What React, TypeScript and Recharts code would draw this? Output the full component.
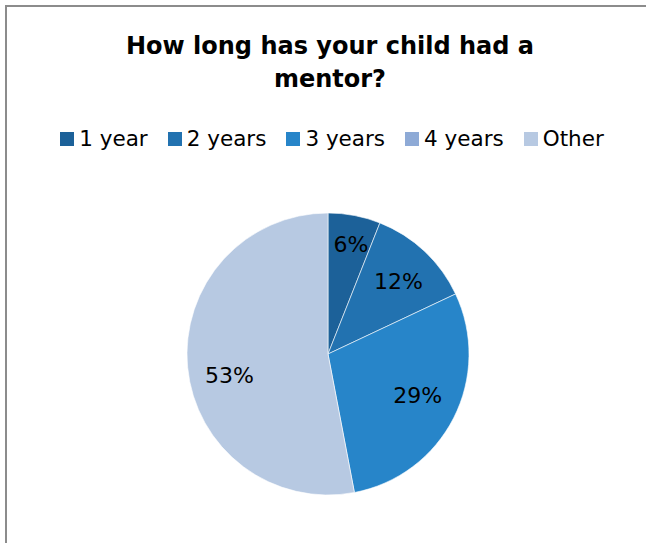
import React from "react";
import { PieChart, Pie, Cell } from "recharts";

const TITLE = ["How long has your child had a", "mentor?"];
const CATEGORIES = ["1 year", "2 years", "3 years", "4 years", "Other"];
const SHARES = [6, 12, 29, 0, 53];
const COLORS = ["#1c6199", "#2272b0", "#2785c9", "#8eaad6", "#b7c9e2"];

const data = CATEGORIES.map((name, i) => ({ name, value: SHARES[i] }));

const FONT = "'DejaVu Sans', sans-serif";
const RAD = Math.PI / 180;

// best-fit style nudges (radius, angle shift in degrees) per slice label
const LABEL_R = [112, 101, 99, 101, 101];
const LABEL_SHIFT = [-1, -1, 2, 0, 7];

function renderLabel(props: any) {
  const { cx, cy, midAngle, value, index } = props;
  if (!value) return null;
  const r = LABEL_R[index];
  const a = (midAngle + LABEL_SHIFT[index]) * RAD;
  const x = cx + r * Math.cos(-a);
  const y = cy + r * Math.sin(-a);
  return (
    <text x={x} y={y} fill="#000" fontSize={22} fontFamily={FONT} textAnchor="middle" dominantBaseline="central">
      {value}%
    </text>
  );
}

export default function App() {
  return (
    <div style={{ position: "absolute", left: 0, top: 0, width: 646, height: 543, background: "#fff", overflow: "hidden" }}>
      <div style={{ position: "absolute", left: 5, top: 5, width: 660, height: 560, borderTop: "2px solid #8c8c8c", borderLeft: "2px solid #8c8c8c" }} />
      <div style={{ position: "absolute", left: 0, top: 30, width: 660, textAlign: "center", fontFamily: FONT, fontWeight: 700, fontSize: 24, lineHeight: "33px", color: "#000" }}>
        {TITLE.map((t) => (
          <div key={t}>{t}</div>
        ))}
      </div>
      <div style={{ position: "absolute", left: 0, top: 126, width: 664, display: "flex", justifyContent: "center", gap: 20, fontFamily: FONT, fontSize: 21.5, color: "#000" }}>
        {CATEGORIES.map((c, i) => (
          <div key={c} style={{ display: "flex", alignItems: "center" }}>
            <span style={{ width: 14, height: 14, background: COLORS[i], display: "inline-block", marginRight: 5 }} />
            <span>{c}</span>
          </div>
        ))}
      </div>
      <div style={{ position: "absolute", left: 0, top: 0 }}>
        <PieChart width={646} height={543} margin={{ top: 0, right: 0, bottom: 0, left: 0 }}>
          <Pie
            data={data}
            dataKey="value"
            nameKey="name"
            cx={328}
            cy={354}
            outerRadius={141}
            startAngle={90}
            endAngle={-270}
            stroke="#fff"
            strokeWidth={0.6}
            label={renderLabel}
            labelLine={false}
            isAnimationActive={false}
          >
            {data.map((d, i) => (
              <Cell key={d.name} fill={COLORS[i]} />
            ))}
          </Pie>
        </PieChart>
      </div>
    </div>
  );
}
